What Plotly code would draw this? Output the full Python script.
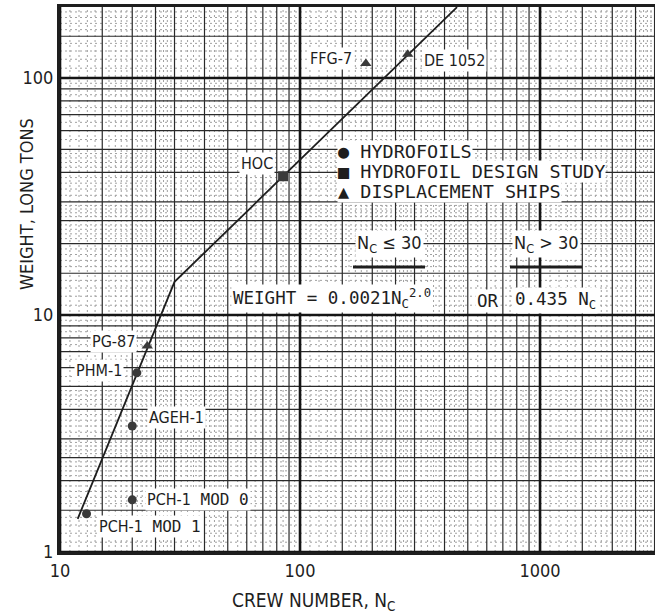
import numpy as np
import plotly.graph_objects as go

# ---- data -------------------------------------------------------------
hydrofoil_names = ["PHM-1", "AGEH-1", "PCH-1 MOD 0", "PCH-1 MOD 1"]
hydrofoil_crew = [20.9, 20.0, 20.0, 12.9]
hydrofoil_weight = [5.7, 3.4, 1.66, 1.45]

design_names = ["HOC"]
design_crew = [85.0]
design_weight = [38.5]

ship_names = ["PG-87", "FFG-7", "DE 1052"]
ship_crew = [23.1, 188.0, 281.0]
ship_weight = [7.4, 115.0, 126.0]

# crew-weight relation (break at N_C = 30)
trend_crew = [11.85, 30.0, 451.0]
trend_weight = [1.38, 13.8, 199.0]

x_ticks = [10, 100, 1000]
y_ticks = [1, 10, 100]

# ---- axes extents (log10) --------------------------------------------
X_LOG = (1.0, 3.479)
Y_LOG = (0.0, 2.2996)
XMIN, XMAX = 10 ** X_LOG[0], 10 ** X_LOG[1]
YMIN, YMAX = 10 ** Y_LOG[0], 10 ** Y_LOG[1]

NARROW = "DejaVu Sans Condensed, Liberation Sans Narrow, Liberation Sans, sans-serif"
MONO = "DejaVu Sans Mono, Liberation Mono, monospace"
INK = "#1e1e1e"
MARK = "#3a3a3a"

# log-paper rulings per decade
MAJOR = [1.0]
MEDIUM = [1.5, 2, 2.5, 3, 4, 5, 6, 7, 8, 9]
FINE = [1.1, 1.2, 1.3, 1.4, 1.6, 1.7, 1.8, 1.9,
        2.1, 2.2, 2.3, 2.4, 2.6, 2.7, 2.8, 2.9,
        3.2, 3.4, 3.6, 3.8, 4.2, 4.4, 4.6, 4.8,
        5.5, 6.5, 7.5, 8.5, 9.5]


def rulings(mults, lo, hi):
    vals = []
    for d in range(int(np.floor(lo)), int(np.ceil(hi)) + 1):
        for m in mults:
            v = m * 10.0 ** d
            if lo - 1e-9 <= np.log10(v) <= hi + 1e-9:
                vals.append(v)
    return vals


def ruling_trace(mults, width, color, dash):
    xs, ys = [], []
    for v in rulings(mults, *X_LOG):
        xs += [v, v, None]
        ys += [YMIN, YMAX, None]
    for v in rulings(mults, *Y_LOG):
        xs += [XMIN, XMAX, None]
        ys += [v, v, None]
    return go.Scatter(x=xs, y=ys, mode="lines", hoverinfo="skip",
                      showlegend=False, cliponaxis=True,
                      line=dict(width=width, color=color, dash=dash))


fig = go.Figure()
fig.add_trace(ruling_trace(FINE, 1, "#a0a0a0", "2px,3px"))
fig.add_trace(ruling_trace(MEDIUM, 1.2, "#2a2a2a", "solid"))
fig.add_trace(ruling_trace(MAJOR, 2.6, "#151515", "solid"))

# relation line
fig.add_trace(go.Scatter(x=trend_crew, y=trend_weight, mode="lines",
                         line=dict(color=INK, width=1.8), showlegend=False,
                         hoverinfo="skip"))

fig.add_trace(go.Scatter(x=hydrofoil_crew, y=hydrofoil_weight, mode="markers",
                         name="HYDROFOILS", text=hydrofoil_names,
                         marker=dict(symbol="circle", size=9, color=MARK),
                         showlegend=False))
fig.add_trace(go.Scatter(x=design_crew, y=design_weight, mode="markers",
                         name="HYDROFOIL DESIGN STUDY", text=design_names,
                         marker=dict(symbol="square", size=10, color=MARK),
                         showlegend=False))
fig.add_trace(go.Scatter(x=ship_crew, y=ship_weight, mode="markers",
                         name="DISPLACEMENT SHIPS", text=ship_names,
                         marker=dict(symbol="triangle-up", size=10, color=MARK),
                         showlegend=False))

annotations = []

# point labels: name -> (anchor, xshift, yshift)
label_offsets = {
    "PHM-1": ("right", -13, 2),
    "AGEH-1": ("left", 15, 9),
    "PCH-1 MOD 0": ("left", 13, 0),
    "PCH-1 MOD 1": ("left", 10, -13),
    "HOC": ("right", -8, 13),
    "PG-87": ("right", -10, 4),
    "FFG-7": ("right", -12, 5),
    "DE 1052": ("left", 14, -6),
}
for names, crews, weights in [(hydrofoil_names, hydrofoil_crew, hydrofoil_weight),
                              (design_names, design_crew, design_weight),
                              (ship_names, ship_crew, ship_weight)]:
    for n, c, w in zip(names, crews, weights):
        anchor, dx, dy = label_offsets[n]
        txt = n
        if "MOD" in n:
            head, tail = n.split(" ", 1)
            txt = (head + '<span style="font-family:DejaVu Sans Mono;">'
                   + " " + tail + "</span>")
        annotations.append(dict(
            x=np.log10(c), y=np.log10(w), xref="x", yref="y", text=txt,
            showarrow=False, xanchor=anchor, yanchor="middle",
            xshift=dx, yshift=dy, bgcolor="white", borderpad=1,
            font=dict(family=NARROW, size=16, color=INK)))


def px_x(p):
    return (p - 60) / 595.0


def px_y(p):
    return (552 - p) / 545.0


# key
key_rows = [("\u25cf", "HYDROFOILS", 151.7),
            ("\u25a0", "HYDROFOIL DESIGN STUDY", 171.7),
            ("\u25b2", "DISPLACEMENT SHIPS", 191.7)]
for sym, lab, py in key_rows:
    annotations.append(dict(
        x=px_x(337), y=px_y(py), xref="paper", yref="paper",
        text=sym + " " + lab,
        showarrow=False, xanchor="left", yanchor="middle",
        bgcolor="white", borderpad=0,
        font=dict(family=MONO, size=18.5, color=INK)))

# relation headers and formula
annotations += [
    dict(x=px_x(389), y=px_y(244), xref="paper", yref="paper",
         text="N<sub>C</sub> \u2264 30", showarrow=False, xanchor="center",
         yanchor="middle", bgcolor="white", borderpad=1,
         font=dict(family=NARROW, size=18, color=INK)),
    dict(x=px_x(546), y=px_y(244), xref="paper", yref="paper",
         text="N<sub>C</sub> > 30", showarrow=False, xanchor="center",
         yanchor="middle", bgcolor="white", borderpad=1,
         font=dict(family=NARROW, size=18, color=INK)),
    dict(x=px_x(231), y=px_y(298), xref="paper", yref="paper",
         text="WEIGHT = 0.0021N<sub>C</sub><sup>2.0</sup>", showarrow=False,
         xanchor="left", yanchor="middle", bgcolor="white", borderpad=1,
         font=dict(family=MONO, size=17.5, color=INK)),
    dict(x=px_x(475), y=px_y(301), xref="paper", yref="paper",
         text="OR", showarrow=False, xanchor="left", yanchor="middle",
         bgcolor="white", borderpad=1,
         font=dict(family=MONO, size=17.5, color=INK)),
    dict(x=px_x(513), y=px_y(301), xref="paper", yref="paper",
         text="0.435 N<sub>C</sub>", showarrow=False, xanchor="left",
         yanchor="middle", bgcolor="white", borderpad=1,
         font=dict(family=MONO, size=17.5, color=INK)),
]

# axis titles
annotations += [
    dict(x=px_x(27), y=px_y(204), xref="paper", yref="paper",
         text="WEIGHT, LONG TONS", textangle=-90, showarrow=False,
         xanchor="center", yanchor="middle",
         font=dict(family=NARROW, size=18, color=INK)),
    dict(x=px_x(313), y=px_y(602), xref="paper", yref="paper",
         text="CREW NUMBER, N<sub>C</sub>", showarrow=False,
         xanchor="center", yanchor="middle",
         font=dict(family=NARROW, size=19, color=INK)),
]

shapes = [
    dict(type="line", xref="paper", yref="paper", x0=px_x(353), x1=px_x(425),
         y0=px_y(267), y1=px_y(267), line=dict(color=INK, width=3)),
    dict(type="line", xref="paper", yref="paper", x0=px_x(510), x1=px_x(582),
         y0=px_y(267), y1=px_y(267), line=dict(color=INK, width=3)),
]

fig.update_layout(
    width=655, height=616,
    margin=dict(l=60, r=0, t=7, b=64),
    paper_bgcolor="white", plot_bgcolor="white",
    showlegend=False,
    annotations=annotations, shapes=shapes,
    xaxis=dict(type="log", range=list(X_LOG), tickvals=x_ticks,
               ticktext=[str(v) for v in x_ticks], showgrid=False,
               zeroline=False, showline=True, mirror=True, linewidth=3,
               linecolor=INK, ticks="",
               tickfont=dict(family=NARROW, size=18, color=INK)),
    yaxis=dict(type="log", range=list(Y_LOG), tickvals=y_ticks,
               ticktext=[str(v) for v in y_ticks], showgrid=False,
               zeroline=False, showline=True, mirror=False, linewidth=3,
               linecolor=INK, ticks="",
               tickfont=dict(family=NARROW, size=18, color=INK)),
)

fig.write_html("out.html")
